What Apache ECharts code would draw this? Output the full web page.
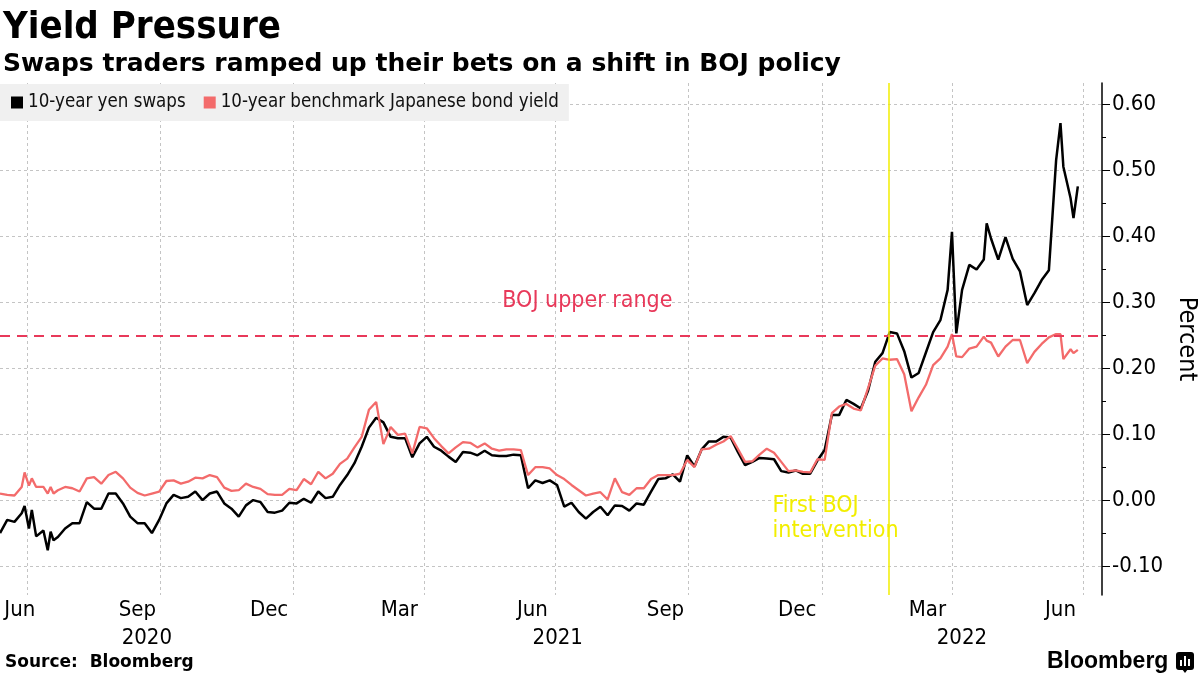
<!DOCTYPE html>
<html><head><meta charset="utf-8">
<script src="https://cdn.jsdelivr.net/npm/echarts@6/dist/echarts.min.js"></script>
<style>html,body{margin:0;padding:0;background:#fff}#c{width:1200px;height:675px}</style>
</head><body><div id="c"></div>
<script>
// ---------- data ----------
const dates = [
'2020-06-12','2020-06-17','2020-06-22','2020-06-27','2020-06-29','2020-07-02','2020-07-04','2020-07-07','2020-07-12','2020-07-15','2020-07-17','2020-07-19','2020-07-22','2020-07-27',
'2020-08-01','2020-08-06','2020-08-11','2020-08-16','2020-08-21','2020-08-26','2020-08-31','2020-09-05','2020-09-10','2020-09-15',
'2020-09-20','2020-09-25','2020-09-30','2020-10-05','2020-10-10','2020-10-15','2020-10-20','2020-10-25','2020-10-30','2020-11-04',
'2020-11-09','2020-11-14','2020-11-19','2020-11-24','2020-11-29','2020-12-04','2020-12-09','2020-12-14','2020-12-19','2020-12-24',
'2020-12-29','2021-01-03','2021-01-08','2021-01-13','2021-01-18','2021-01-23','2021-01-28','2021-02-02','2021-02-07','2021-02-12',
'2021-02-17','2021-02-22','2021-02-27','2021-03-04','2021-03-09','2021-03-14','2021-03-19','2021-03-24','2021-03-29','2021-04-03',
'2021-04-08','2021-04-13','2021-04-18','2021-04-23','2021-04-28','2021-05-03','2021-05-08','2021-05-13','2021-05-18','2021-05-23',
'2021-05-28','2021-06-02','2021-06-07','2021-06-12','2021-06-17','2021-06-22','2021-06-27','2021-07-02','2021-07-07','2021-07-12',
'2021-07-17','2021-07-22','2021-07-27','2021-08-01','2021-08-06','2021-08-11','2021-08-16','2021-08-21','2021-08-26','2021-08-31',
'2021-09-05','2021-09-10','2021-09-15','2021-09-20','2021-09-25','2021-09-30','2021-10-05','2021-10-10','2021-10-15','2021-10-20',
'2021-10-25','2021-10-30','2021-11-04','2021-11-09','2021-11-14','2021-11-19','2021-11-24','2021-11-29','2021-12-04','2021-12-09',
'2021-12-14','2021-12-19','2021-12-24','2021-12-29','2022-01-03','2022-01-08','2022-01-13','2022-01-18','2022-01-23','2022-01-28',
'2022-02-02','2022-02-07','2022-02-12','2022-02-17','2022-02-22','2022-02-27','2022-03-04','2022-03-09','2022-03-14','2022-03-19',
'2022-03-24','2022-03-29','2022-04-01','2022-04-04',
'2022-04-08','2022-04-13','2022-04-18','2022-04-23','2022-04-25','2022-04-28','2022-05-03','2022-05-08','2022-05-13','2022-05-18','2022-05-23',
'2022-05-28','2022-06-02','2022-06-07','2022-06-12','2022-06-15','2022-06-17','2022-06-22','2022-06-24','2022-06-27'
];
const yenSwaps = [
-0.050,-0.030,-0.033,-0.020,-0.009,-0.043,-0.015,-0.055,-0.046,-0.076,-0.048,-0.061,-0.056,-0.043,
-0.035,-0.035,-0.003,-0.013,-0.013,0.010,0.010,-0.005,-0.025,-0.035,
-0.035,-0.050,-0.030,-0.005,0.008,0.003,0.005,0.013,0.000,0.010,
0.013,-0.005,-0.013,-0.025,-0.008,0.000,-0.003,-0.018,-0.019,-0.016,
-0.004,-0.005,0.002,-0.004,0.013,0.003,0.005,0.023,0.038,0.056,
0.081,0.110,0.125,0.118,0.096,0.094,0.094,0.065,0.086,0.096,
0.081,0.075,0.066,0.058,0.073,0.072,0.068,0.075,0.068,0.067,
0.067,0.069,0.068,0.018,0.030,0.026,0.030,0.023,-0.010,-0.004,
-0.018,-0.028,-0.018,-0.010,-0.023,-0.008,-0.009,-0.016,-0.005,-0.007,
0.013,0.032,0.033,0.039,0.028,0.068,0.051,0.077,0.089,0.089,
0.096,0.095,0.073,0.053,0.058,0.064,0.063,0.062,0.044,0.042,
0.045,0.040,0.040,0.060,0.076,0.129,0.129,0.152,0.146,0.139,
0.166,0.210,0.223,0.255,0.253,0.226,0.186,0.193,0.224,0.255,
0.273,0.319,0.407,0.253,
0.319,0.357,0.350,0.365,0.420,0.397,0.365,0.399,0.366,0.347,0.296,
0.314,0.334,0.349,0.516,0.572,0.506,0.458,0.428,0.476
];
const jgbYield = [
0.010,0.008,0.007,0.020,0.042,0.022,0.033,0.020,0.020,0.010,0.020,0.010,0.015,0.020,
0.018,0.013,0.033,0.035,0.025,0.038,0.043,0.033,0.019,0.011,
0.007,0.010,0.013,0.029,0.030,0.025,0.028,0.034,0.033,0.038,
0.035,0.019,0.014,0.015,0.025,0.020,0.017,0.009,0.008,0.008,
0.017,0.015,0.032,0.024,0.043,0.033,0.040,0.055,0.063,0.080,
0.096,0.137,0.149,0.085,0.111,0.099,0.101,0.071,0.111,0.109,
0.094,0.082,0.071,0.080,0.088,0.087,0.080,0.086,0.078,0.075,
0.077,0.077,0.076,0.038,0.050,0.050,0.048,0.038,0.032,0.023,
0.015,0.007,0.010,0.012,0.001,0.033,0.012,0.008,0.018,0.018,
0.032,0.038,0.038,0.038,0.040,0.061,0.050,0.077,0.078,0.084,
0.089,0.097,0.078,0.058,0.059,0.069,0.078,0.072,0.058,0.044,
0.045,0.043,0.042,0.062,0.061,0.132,0.142,0.146,0.139,0.136,
0.170,0.204,0.215,0.213,0.214,0.191,0.135,0.156,0.175,0.205,
0.215,0.233,0.252,0.218,
0.217,0.230,0.233,0.248,0.242,0.239,0.218,0.233,0.243,0.243,0.208,
0.225,0.237,0.247,0.252,0.252,0.214,0.229,0.223,0.228
];
const seriesNames = ['10-year yen swaps', '10-year benchmark Japanese bond yield'];
const monthLabels = ['Jun','Sep','Dec','Mar','Jun','Sep','Dec','Mar','Jun'];
const monthLabelDates = ['2020-06-15','2020-09-15','2020-12-15','2021-03-15','2021-06-15','2021-09-15','2021-12-15','2022-03-15','2022-06-15'];
const gridDates = ['2020-07-01','2020-10-01','2021-01-01','2021-04-01','2021-07-01','2021-10-01','2022-01-01','2022-04-01','2022-07-01'];
const yearLabels = ['2020','2021','2022'];
const yTicks = [-0.1,0,0.1,0.2,0.3,0.4,0.5,0.6];
const yMinorTicks = [-0.05,0.05,0.15,0.25,0.35,0.45,0.55];
const bojUpperRange = 0.25;
const interventionDate = '2022-02-16';
const axisStart = '2020-06-12T00:00:00Z';
const axisEnd = '2022-07-13T17:00:00Z';
const yMin = -0.144, yMax = 0.633;

// ---------- helpers ----------
const ts = s => Date.parse(s.length === 10 ? s + 'T00:00:00Z' : s);
const xMin = ts(axisStart), xMax = ts(axisEnd);
const monthTs = monthLabelDates.map(ts);
const yearTs = yearLabels.map(y => {
  const a = Math.max(xMin, Date.UTC(+y, 0, 1));
  const b = Math.min(xMax, Date.UTC(+y + 1, 0, 1));
  return (a + b) / 2;
});
const nearestIdx = (arr, v) => { let bi = 0, bd = Infinity; arr.forEach((a, i) => { const d = Math.abs(a - v); if (d < bd) { bd = d; bi = i; } }); return bi; };

const FONT = "'DejaVu Sans Condensed', 'DejaVu Sans', sans-serif";
const BLACK = '#000000', PINK = '#f36b6b', RED = '#e8395a', YELLOW = '#f2ee00';
const GRIDLINE = { show: true, lineStyle: { color: '#c4c4c4', width: 1, type: [3, 3] } };

const chart = echarts.init(document.getElementById('c'), null, { renderer: 'canvas' });
chart.setOption({
  animation: false,
  backgroundColor: '#ffffff',
  title: [
    { text: 'Yield Pressure', left: 3, top: 9, padding: 0,
      textStyle: { fontFamily: FONT, fontWeight: 'bold', fontSize: 38, color: '#000' } },
    { text: 'Swaps traders ramped up their bets on a shift in BOJ policy', left: 3, top: 52, padding: 0,
      textStyle: { fontFamily: "'DejaVu Sans', sans-serif", fontWeight: 'bold', fontSize: 25, color: '#000' } },
    { text: 'Source:  Bloomberg', left: 5, top: 654, padding: 0,
      textStyle: { fontFamily: "'DejaVu Sans', sans-serif", fontWeight: 'bold', fontSize: 17, color: '#000' } }
  ],
  legend: {
    left: 0, top: 84, padding: [9, 10, 9, 11], backgroundColor: '#f0f0f0',
    itemWidth: 12, itemHeight: 12, itemGap: 18, icon: 'rect',
    textStyle: { fontFamily: FONT, fontSize: 18.6, color: '#111' },
    data: seriesNames
  },
  grid: { left: 0, right: 98, top: 83, bottom: 80, containLabel: false, outerBoundsMode: 'none' },
  xAxis: [
    { type: 'value', min: xMin, max: xMax, position: 'bottom',
      axisLine: { show: false },
      axisTick: { show: false, customValues: gridDates.map(ts) },
      splitLine: GRIDLINE,
      axisLabel: { show: true, customValues: monthTs, margin: 4, alignMinLabel: 'left',
        fontFamily: FONT, fontSize: 22, color: '#000',
        formatter: v => monthLabels[nearestIdx(monthTs, v)] } },
    { type: 'value', min: xMin, max: xMax, position: 'bottom', offset: 28,
      axisLine: { show: false }, axisTick: { show: false }, splitLine: { show: false },
      axisLabel: { show: true, customValues: yearTs, margin: 4,
        fontFamily: FONT, fontSize: 22, color: '#000',
        formatter: v => yearLabels[nearestIdx(yearTs, v)] } }
  ],
  yAxis: [
    { type: 'value', min: yMin, max: yMax, position: 'right',
      name: 'Percent', nameLocation: 'middle', nameRotate: -90, nameGap: 72,
      nameTextStyle: { fontFamily: FONT, fontSize: 25, color: '#000' },
      axisLine: { show: true, lineStyle: { color: '#000', width: 1.5 } },
      axisTick: { show: true, inside: false, length: 8, customValues: yTicks, lineStyle: { color: '#000', width: 1 } },
      axisLabel: { show: true, customValues: yTicks, margin: 10, fontFamily: FONT, fontSize: 22, color: '#000',
        formatter: v => v.toFixed(2) },
      splitLine: GRIDLINE },
    { type: 'value', min: yMin, max: yMax, position: 'right', offset: 0,
      axisLine: { show: false },
      axisTick: { show: true, inside: false, length: 4, customValues: yMinorTicks, lineStyle: { color: '#000', width: 1 } },
      axisLabel: { show: false }, splitLine: { show: false } }
  ],
  series: [
    { name: seriesNames[0], type: 'line', xAxisIndex: 0, yAxisIndex: 0, symbol: 'none', showSymbol: false,
      color: BLACK, lineStyle: { color: BLACK, width: 2.5 }, z: 3,
      data: dates.map((d, i) => [ts(d), yenSwaps[i]]) },
    { name: seriesNames[1], type: 'line', xAxisIndex: 0, yAxisIndex: 0, symbol: 'none', showSymbol: false,
      color: PINK, lineStyle: { color: PINK, width: 2.3 }, z: 4,
      data: dates.map((d, i) => [ts(d), jgbYield[i]]),
      markLine: {
        silent: true, symbol: ['none', 'none'], label: { show: false }, animation: false,
        data: [
          { yAxis: bojUpperRange, lineStyle: { color: RED, width: 2, type: [10, 7] } },
          { xAxis: ts(interventionDate), lineStyle: { color: YELLOW, width: 1.5, type: 'solid' } }
        ]
      },
      markPoint: {
        silent: true, symbol: 'circle', symbolSize: 0, animation: false,
        data: [
          { coord: [ts('2021-07-23'), 0.302], value: 'BOJ upper range',
            label: { show: true, position: 'inside', formatter: 'BOJ upper range', fontFamily: FONT, fontSize: 23, color: RED } },
          { coord: [ts('2021-11-28'), 0.0095], value: 'First BOJ intervention',
            label: { show: true, position: [0, 0], align: 'left', verticalAlign: 'top', lineHeight: 25,
              formatter: 'First BOJ\nintervention', fontFamily: FONT, fontSize: 23, color: YELLOW } }
        ]
      } }
  ],
  graphic: [
    { type: 'text', left: 1047, top: 650, style: { text: 'Bloomberg', fontFamily: "'Liberation Sans', Arial, sans-serif", fontWeight: 'bold', fontSize: 23, fill: '#000' } },
    { type: 'group', left: 1176, top: 652, children: [
      { type: 'rect', shape: { x: 0, y: 0, width: 18, height: 18, r: 3 }, style: { fill: '#000' } },
      { type: 'polygon', shape: { points: [[6, 17], [12, 17], [9, 21]] }, style: { fill: '#000' } },
      { type: 'rect', shape: { x: 4, y: 8, width: 2, height: 6 }, style: { fill: '#fff' } },
      { type: 'rect', shape: { x: 8, y: 4, width: 2, height: 10 }, style: { fill: '#fff' } },
      { type: 'rect', shape: { x: 12, y: 7, width: 2, height: 7 }, style: { fill: '#fff' } }
    ] }
  ]
});
</script>
</body></html>
